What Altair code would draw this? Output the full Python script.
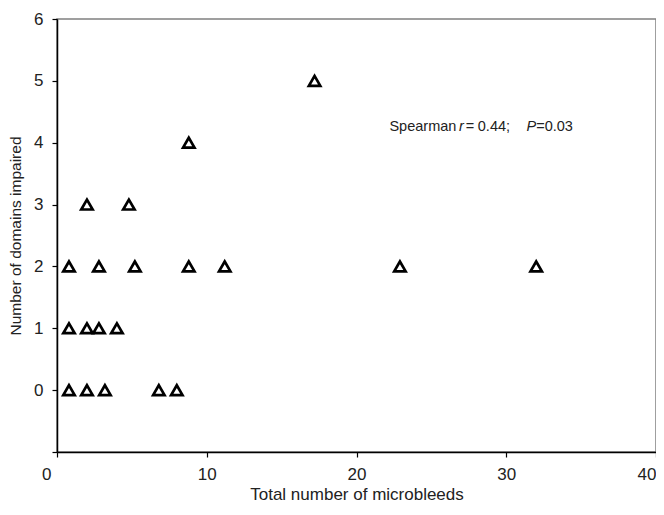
import altair as alt
import pandas as pd

# Data
microbleeds = [0.8, 2.0, 3.2, 6.8, 8.0,
               0.8, 2.0, 2.8, 4.0,
               0.8, 2.8, 5.2, 8.8, 11.2, 22.9, 32.0,
               2.0, 4.8,
               8.8,
               17.2]
domains = [0, 0, 0, 0, 0,
           1, 1, 1, 1,
           2, 2, 2, 2, 2, 2, 2,
           3, 3,
           4,
           5]

x_ticks = [0, 10, 20, 30, 40]
y_ticks = [-1, 0, 1, 2, 3, 4, 5, 6]

ann_text = ["Spearman", "r", "=", "0.44;", "P", "=0.03"]
ann_style = ["normal", "italic", "normal", "normal", "italic", "normal"]
ann_x = [22.2, 26.85, 27.3, 28.1, 31.35, 32.0]
ann_y = [4.26, 4.26, 4.26, 4.26, 4.26, 4.26]

FONT = "Liberation Sans"

df = pd.DataFrame({"x": microbleeds, "y": domains})
ann = pd.DataFrame({"t": ann_text, "s": ann_style, "x": ann_x, "y": ann_y})

xscale = alt.Scale(domain=[0, 40], nice=False, zero=False)
yscale = alt.Scale(domain=[-1, 6], nice=False, zero=False)

xaxis = alt.Axis(
    title="Total number of microbleeds",
    values=x_ticks, grid=False, format="d",
    domainColor="black", domainWidth=1.5,
    tickColor="black", tickSize=5, tickWidth=1.2,
    labelFont=FONT, labelFontSize=17, labelColor="#222",
    labelPadding=9,
    labelAlign=alt.expr("datum.value == 0 || datum.value == 40 ? 'right' : 'center'"),
    labelOffset=alt.expr("datum.value == 0 ? -6 : 0"),
    labelBound=False,
    titleFont=FONT, titleFontSize=17, titleFontWeight="normal", titleColor="#222",
    titlePadding=4,
)
yaxis = alt.Axis(
    title="Number of domains impaired",
    values=y_ticks, grid=False, format="d",
    labelExpr="datum.value < 0 ? '' : datum.label",
    domainColor="black", domainWidth=1.5,
    tickColor="black", tickSize=5, tickWidth=1.2,
    labelFont=FONT, labelFontSize=17, labelColor="#222",
    labelPadding=9,
    titleFont=FONT, titleFontSize=15.5, titleFontWeight="normal", titleColor="#222",
    titlePadding=10,
)

points = alt.Chart(df).mark_point(
    shape="triangle-up", size=130, filled=False,
    stroke="black", strokeWidth=2.7, opacity=1,
).encode(
    x=alt.X("x:Q", scale=xscale, axis=xaxis),
    y=alt.Y("y:Q", scale=yscale, axis=yaxis),
)

def ann_layer(style):
    return alt.Chart(ann).transform_filter(
        alt.datum.s == style
    ).mark_text(
        align="left", baseline="middle", font=FONT, fontSize=14.5,
        fontStyle=style, color="#222",
    ).encode(
        x=alt.X("x:Q", scale=xscale),
        y=alt.Y("y:Q", scale=yscale),
        text="t:N",
    )

chart = alt.layer(points, ann_layer("normal"), ann_layer("italic")).properties(
    width=599, height=433,
    autosize=alt.AutoSizeParams(type="none"),
    padding={"left": 49, "top": 11, "right": 0, "bottom": 55},
    background="white",
).configure_view(
    stroke="#808080", strokeWidth=1.5,
)

chart.save("out.html", embed_options={"renderer": "svg", "actions": False})
